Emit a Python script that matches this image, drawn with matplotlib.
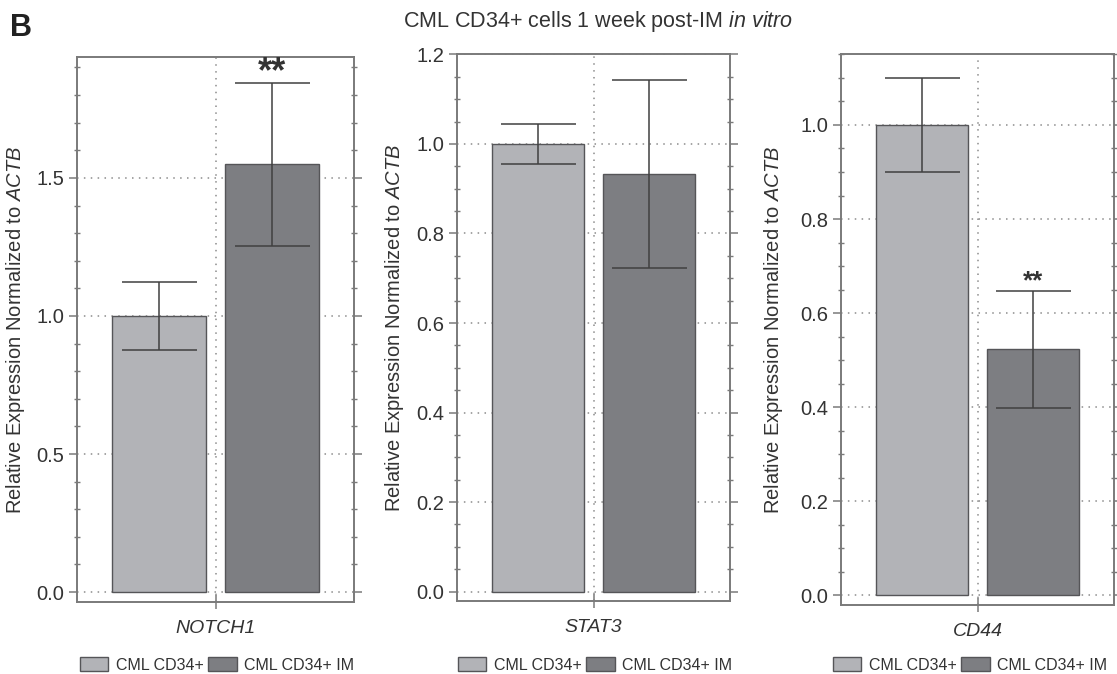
import matplotlib
matplotlib.use("Agg")
import matplotlib.pyplot as plt
from matplotlib.patches import Patch
from matplotlib.ticker import MultipleLocator

plt.rcParams['font.family'] = ['Liberation Sans', 'DejaVu Sans']
plt.rcParams['mathtext.fontset'] = 'custom'
plt.rcParams['mathtext.rm'] = 'Liberation Sans'
plt.rcParams['mathtext.it'] = 'Liberation Sans:italic'

# Data
genes = ["NOTCH1", "STAT3", "CD44"]
groups = ["CML CD34+", "CML CD34+ IM"]
means_ctrl = [1.00, 1.00, 1.00]
errs_ctrl = [0.123, 0.045, 0.10]
means_im = [1.55, 0.933, 0.523]
errs_im = [0.295, 0.21, 0.124]
significance = ["**", "", "**"]

ylims = [(-0.036, 1.938), (-0.021, 1.201), (-0.021, 1.151)]
major_steps = [0.5, 0.2, 0.2]
minor_steps = [0.1, 0.05, 0.05]

bar_colors = ["#b2b3b7", "#7d7e82"]
edge_color = "#555558"
spine_color = "#7a7a7a"
text_color = "#333333"

W, H = 1117, 674
fig = plt.figure(figsize=(W / 100, H / 100), dpi=100)

# axes boxes in pixels: left, top, right, bottom
boxes = [(77, 57, 354, 602), (457, 54, 730, 601), (841, 54, 1114, 605)]
ylabel_x = [27, 406, 785]
legend_cx = [217, 595, 970]
legend_cy = 665
star_style = [dict(size=26, dy=0.5), None, dict(size=18.5, dy=2.0)]

width = 0.83
xpos = [0, 1]
for i, gene in enumerate(genes):
    l, t, r, b = boxes[i]
    ax = fig.add_axes((l / W, 1 - b / H, (r - l) / W, (b - t) / H))
    vals = [means_ctrl[i], means_im[i]]
    errs = [errs_ctrl[i], errs_im[i]]
    ax.bar(xpos, vals, width=width, color=bar_colors, edgecolor=edge_color,
           linewidth=1.0, zorder=3,
           yerr=errs, capsize=27,
           error_kw=dict(ecolor="#404040", elinewidth=1.1, capthick=1.1, zorder=4))
    ax.set_xlim(-0.73, 1.73)
    ax.set_ylim(*ylims[i])

    # dotted guides
    ax.yaxis.set_major_locator(MultipleLocator(major_steps[i]))
    ax.yaxis.set_minor_locator(MultipleLocator(minor_steps[i]))
    ax.grid(axis='y', which='major', linestyle=(0, (1, 3.5)), color="#8c8c8c",
            linewidth=1.1, zorder=0)
    ax.axvline(0.5, linestyle=(0, (1, 3.5)), color="#8c8c8c", linewidth=1.1, zorder=0)
    ax.set_axisbelow(True)

    ax.set_xticks([0.5])
    ax.set_xticklabels([""])
    ax.tick_params(axis='x', which='major', direction='inout', length=10,
                   width=1.1, color=spine_color, top=False)
    ax.tick_params(axis='y', which='major', direction='out', length=6, width=1.1,
                   color=spine_color, labelsize=14.5, labelcolor=text_color, pad=3)
    ax.tick_params(axis='y', which='minor', direction='inout', length=5, width=1.0,
                   color=spine_color)
    ax.tick_params(axis='y', which='both', right=True)
    ax.yaxis.set_major_formatter(plt.FuncFormatter(lambda v, p: f"{v:.1f}"))

    for s in ax.spines.values():
        s.set_color(spine_color)
        s.set_linewidth(1.4)

    ax.set_xlabel(gene, fontsize=14, style='italic', color=text_color, va='center')
    ax.xaxis.set_label_coords(0.5, -0.048)
    ax.set_ylabel(r"Relative Expression Normalized to $\mathit{ACTB}$",
                  fontsize=14.5, color=text_color)
    ax.yaxis.set_label_coords((ylabel_x[i] - l) / (r - l), 0.5)

    if significance[i]:
        st = star_style[i]
        ax.annotate(significance[i], xy=(xpos[1], means_im[i] + errs_im[i]),
                    xytext=(0, st['dy']), textcoords='offset points',
                    ha='center', va='baseline', fontsize=st['size'],
                    fontweight='bold', color=text_color, zorder=5)

    handles = [Patch(facecolor=bar_colors[0], edgecolor=edge_color, label=groups[0]),
               Patch(facecolor=bar_colors[1], edgecolor=edge_color, label=groups[1])]
    ax.legend(handles=handles, loc='center',
              bbox_to_anchor=((legend_cx[i] - l) / (r - l), (b - legend_cy) / (b - t)),
              ncol=2, frameon=False, fontsize=11.5, handlelength=1.8,
              handleheight=0.9, handletextpad=0.45, columnspacing=0.3,
              labelcolor=text_color, borderaxespad=0, borderpad=0)

fig.text(598 / W, 1 - 27 / H, r"CML CD34+ cells 1 week post-IM $\mathit{in\ vitro}$",
         ha='center', va='baseline', fontsize=15.5, color=text_color)
fig.text(10 / W, 1 - 36 / H, "B", ha='left', va='baseline', fontsize=22,
         fontweight='bold', color="#222222")

fig.savefig("out.png", dpi=100)
